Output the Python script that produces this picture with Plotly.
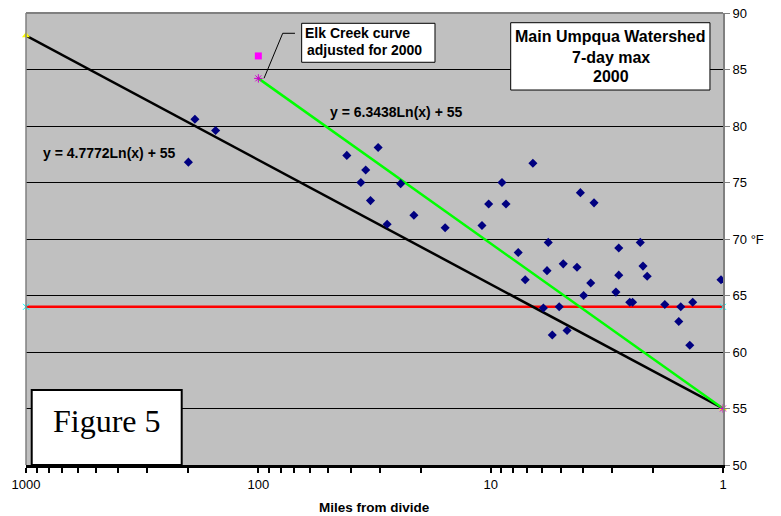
import numpy as np
import plotly.graph_objects as go

# ---- data ----
miles = [200, 187.5, 152.7, 41.6, 30.5, 34.5, 36.2, 32.9, 24.4, 27.9,
         21.4, 15.7, 10.9, 10.2, 8.94, 8.59, 6.58, 7.61, 7.10, 5.65,
         5.72, 5.93, 4.11, 3.59, 4.87, 4.25, 3.71, 3.98, 5.07, 5.43,
         4.69, 2.81, 2.27, 2.81, 2.21, 2.12, 2.89, 2.52, 2.45, 1.78,
         1.52, 1.35, 1.55, 1.39, 1.02]
temps = [76.8, 80.6, 79.6, 77.4, 78.1, 76.1, 75.0, 73.4, 74.9, 71.3,
         72.1, 71.0, 71.2, 73.1, 75.0, 73.1, 76.7, 68.8, 66.4, 69.7,
         67.2, 63.9, 74.1, 73.2, 67.8, 67.5, 66.1, 65.0, 64.0, 61.5,
         61.9, 69.2, 69.7, 66.8, 67.6, 66.7, 65.3, 64.4, 64.4, 64.2,
         64.0, 64.4, 62.7, 60.6, 66.4]

black_fit = (4.7772, 55.0)      # y = a*Ln(x) + b
black_x = [1000, 1]
green_fit = (6.3438, 55.0)
green_x = [100, 1]
standard_x = [1000, 1]
standard_y = [64, 64]
elk_x = [100]
elk_y = [86.2]

major_ticks = [1000, 100, 10, 1]
y_ticks = [50, 55, 60, 65, 70, 75, 80, 85, 90]
y_ticktext = ["50", "55", "60", "65", "70 °F", "75", "80", "85", "90"]

eq_black = "y = 4.7772Ln(x) + 55"
eq_green = "y = 6.3438Ln(x) + 55"

# ---- build ----
bx = np.array(black_x, dtype=float)
by = black_fit[0] * np.log(bx) + black_fit[1]
gx = np.array(green_x, dtype=float)
gy = green_fit[0] * np.log(gx) + green_fit[1]

tickvals = []
ticktext = []
for k in range(0, 3):
    for m in range(1, 10):
        tickvals.append(m * 10 ** k)
        ticktext.append(str(m * 10 ** k) if m * 10 ** k in major_ticks else "")
tickvals.append(1000)
ticktext.append("1000")

fig = go.Figure()

fig.add_trace(go.Scatter(x=standard_x, y=standard_y, mode="lines+markers",
                         line=dict(color="#FF0000", width=2.5),
                         marker=dict(symbol="x-thin-open", size=6, color="#00FFFF",
                                     line=dict(color="#00FFFF", width=1)),
                         showlegend=False, cliponaxis=False))
fig.add_trace(go.Scatter(x=bx, y=by, mode="lines+markers",
                         line=dict(color="#000000", width=2.5),
                         marker=dict(symbol="triangle-up", size=7, color="#FFFF00"),
                         showlegend=False, cliponaxis=False))
fig.add_trace(go.Scatter(x=gx, y=gy, mode="lines+markers",
                         line=dict(color="#00FF00", width=2.5),
                         marker=dict(symbol="asterisk-open", size=7, color="#CC00CC",
                                     line=dict(color="#CC00CC", width=1)),
                         showlegend=False, cliponaxis=False))
fig.add_trace(go.Scatter(x=elk_x, y=elk_y, mode="markers",
                         marker=dict(symbol="square", size=7, color="#FF00FF"),
                         showlegend=False))
fig.add_trace(go.Scatter(x=miles, y=temps, mode="markers",
                         marker=dict(symbol="diamond", size=7, color="#000080"),
                         showlegend=False))

fig.update_layout(
    width=781, height=516,
    margin=dict(l=26, r=58, t=13, b=51, autoexpand=False),
    paper_bgcolor="white",
    plot_bgcolor="#C0C0C0",
    font=dict(family="Liberation Sans, Arial, sans-serif", size=13, color="black"),
    xaxis=dict(type="log", range=[3, 0], tickmode="array", tickvals=tickvals,
               ticktext=ticktext, ticks="outside", ticklen=5, tickwidth=2,
               tickcolor="black", showline=True, linecolor="black", linewidth=3,
               showgrid=False, zeroline=False, automargin=False,
               tickfont=dict(size=13)),
    yaxis=dict(side="right", range=[50, 90], tickmode="array", tickvals=y_ticks,
               ticktext=y_ticktext, ticks="outside", ticklen=5, tickwidth=1,
               tickcolor="#808080", showline=True, linecolor="#808080", linewidth=2,
               showgrid=True, gridcolor="#000000", gridwidth=1, zeroline=False,
               automargin=False, tickfont=dict(size=13)),
)

shapes = [
    # top and left border of plot area
    dict(type="line", xref="paper", yref="paper", x0=0, x1=1, y0=1, y1=1,
         line=dict(color="#808080", width=2)),
    dict(type="line", xref="paper", yref="paper", x0=0, x1=0, y0=0, y1=1,
         line=dict(color="#808080", width=1.5)),
    # Elk Creek box
    dict(type="rect", xref="paper", yref="paper", x0=0.3955, x1=0.5868, y0=0.891, y1=0.9772,
         fillcolor="white", line=dict(color="black", width=1)),
    # leader line
    dict(type="path", xref="paper", yref="paper",
         path="M 0.3415 0.8555 L 0.3683 0.9551 L 0.3859 0.9551",
         line=dict(color="black", width=1)),
    # Main Umpqua box
    dict(type="rect", xref="paper", yref="paper", x0=0.6954, x1=0.9813, y0=0.8296, y1=0.9785,
         fillcolor="white", line=dict(color="black", width=1)),
    # Figure 5 box
    dict(type="rect", xref="paper", yref="paper", x0=0.0082, x1=0.2234, y0=0.0, y1=0.166,
         fillcolor="white", line=dict(color="black", width=2)),
]
fig.update_layout(shapes=shapes)

bold = dict(family="Liberation Sans, Arial, sans-serif", size=14, color="black")
big = dict(family="Liberation Sans, Arial, sans-serif", size=16, color="black")
annotations = [
    dict(text="<b>" + eq_black + "</b>", xref="paper", yref="paper", x=0.1205, y=0.691,
         xanchor="center", yanchor="middle", showarrow=False, font=bold),
    dict(text="<b>" + eq_green + "</b>", xref="paper", yref="paper", x=0.5313, y=0.7816,
         xanchor="center", yanchor="middle", showarrow=False, font=bold),
    dict(text="<b>Elk Creek curve</b>", xref="paper", yref="paper", x=0.3968, y=0.9551,
         xanchor="left", yanchor="middle", showarrow=False, font=bold),
    dict(text="<b>adjusted for 2000</b>", xref="paper", yref="paper", x=0.3997, y=0.9181,
         xanchor="left", yanchor="middle", showarrow=False, font=bold),
    dict(text="<b>Main Umpqua Watershed</b>", xref="paper", yref="paper", x=0.8386, y=0.9476,
         xanchor="center", yanchor="middle", showarrow=False, font=big),
    dict(text="<b>7-day max</b>", xref="paper", yref="paper", x=0.8386, y=0.9022,
         xanchor="center", yanchor="middle", showarrow=False, font=big),
    dict(text="<b>2000</b>", xref="paper", yref="paper", x=0.8386, y=0.8593,
         xanchor="center", yanchor="middle", showarrow=False, font=big),
    dict(text="Figure 5", xref="paper", yref="paper", x=0.1158, y=0.0978,
         xanchor="center", yanchor="middle", showarrow=False,
         font=dict(family="Liberation Serif, Times New Roman, serif", size=32, color="black")),
    dict(text="<b>Miles from divide</b>", xref="paper", yref="paper", x=0.5, y=-0.095,
         xanchor="center", yanchor="middle", showarrow=False,
         font=dict(family="Liberation Sans, Arial, sans-serif", size=13.5, color="black")),
]
fig.update_layout(annotations=annotations)

fig.write_html("out.html")
